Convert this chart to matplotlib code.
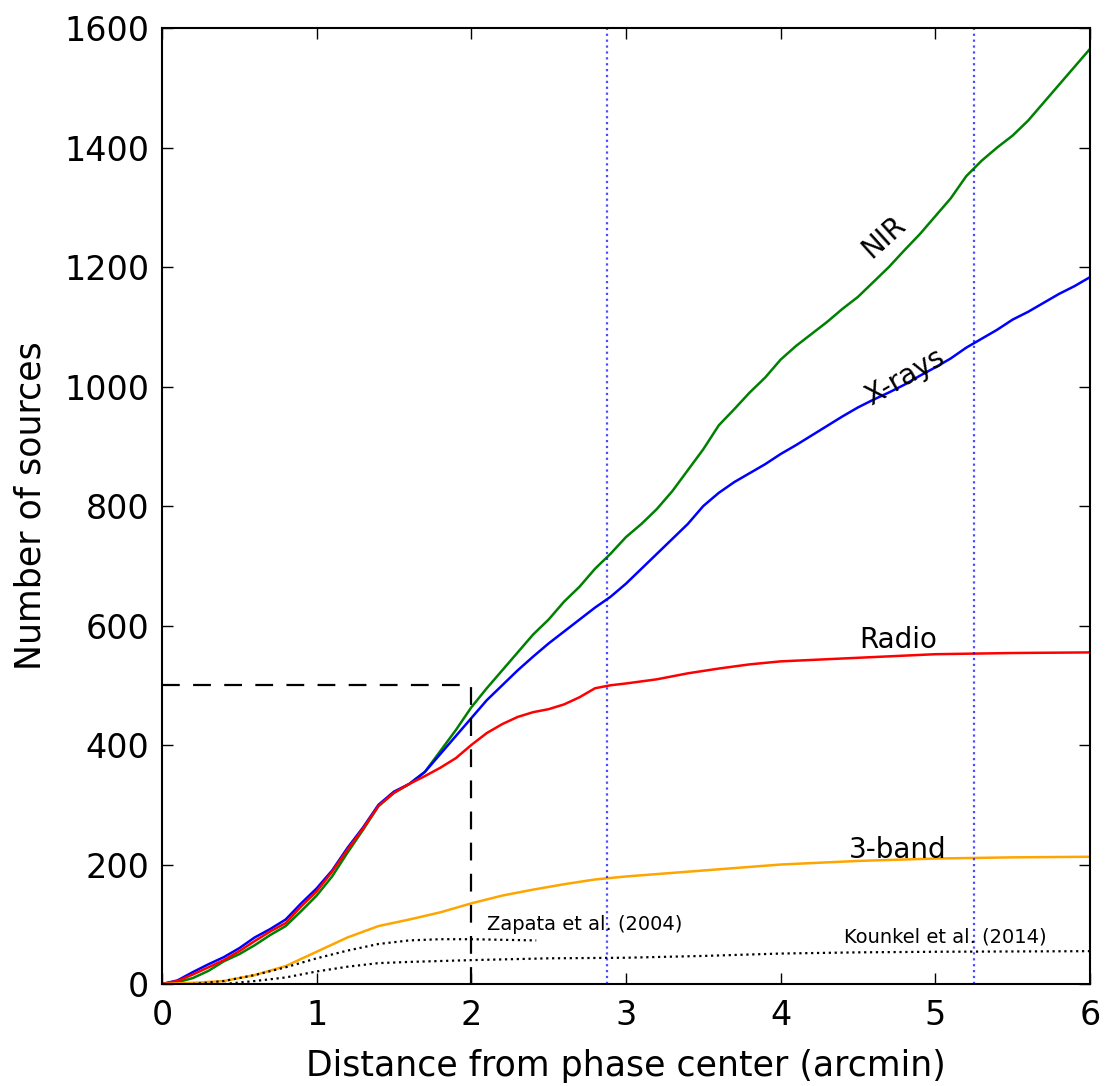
import matplotlib
matplotlib.use('Agg')
from matplotlib import pyplot as plt
import numpy as np

# cumulative source counts vs. distance from the phase center (arcmin)
r_step = np.round(np.arange(0, 6.01, 0.1), 1)

nir = [0, 3, 10, 22, 38, 50, 65, 82, 97, 122,
       148, 180, 220, 258, 298, 320, 335, 355, 390, 425,
       463, 495, 525, 555, 585, 610, 640, 665, 695, 720,
       748, 770, 795, 825, 860, 895, 935, 962, 990, 1015,
       1045, 1068, 1088, 1108, 1130, 1150, 1175, 1200, 1228, 1255,
       1285, 1315, 1352, 1378, 1400, 1420, 1445, 1475, 1505, 1535,
       1565]

xrays = [0, 6, 20, 33, 45, 60, 78, 92, 108, 135,
         160, 190, 228, 262, 300, 322, 335, 355, 385, 415,
         445, 475, 500, 525, 548, 570, 590, 610, 630, 648,
         670, 695, 720, 745, 770, 800, 822, 840, 855, 870,
         887, 902, 918, 934, 950, 965, 978, 990, 1003, 1018,
         1032, 1047, 1065, 1080, 1095, 1112, 1125, 1140, 1155, 1168,
         1183]

radio_r = [0, 0.1, 0.2, 0.3, 0.4, 0.5, 0.6, 0.7, 0.8, 0.9,
           1.0, 1.1, 1.2, 1.3, 1.4, 1.5, 1.6, 1.7, 1.8, 1.9,
           2.0, 2.1, 2.2, 2.3, 2.4, 2.5, 2.6, 2.7, 2.8, 2.9,
           3.0, 3.2, 3.4, 3.6, 3.8, 4.0, 4.5, 5.0, 5.5, 6.0]
radio = [0, 5, 16, 28, 40, 55, 72, 88, 102, 130,
         155, 188, 225, 260, 298, 320, 335, 348, 362, 378,
         400, 420, 435, 447, 455, 460, 468, 480, 495, 500,
         503, 510, 520, 528, 535, 540, 546, 552, 554, 555]

band3_r = [0, 0.2, 0.4, 0.6, 0.8, 1.0, 1.2, 1.4, 1.6, 1.8,
           2.0, 2.2, 2.4, 2.6, 2.8, 3.0, 3.5, 4.0, 4.5, 5.0, 5.5, 6.0]
band3 = [0, 2, 5, 15, 30, 54, 78, 97, 108, 120,
         135, 148, 158, 167, 175, 180, 190, 200, 206, 210, 212, 213]

zapata_r = [0.2, 0.4, 0.6, 0.8, 1.0, 1.2, 1.4, 1.6, 1.8, 2.0, 2.2, 2.42]
zapata = [0, 5, 15, 28, 43, 56, 67, 73, 75, 75, 74, 73]

kounkel_r = [0.4, 0.6, 0.8, 1.0, 1.2, 1.4, 1.6, 2.0, 2.5, 3.0,
             3.5, 4.0, 4.5, 5.0, 6.0]
kounkel = [0, 5, 11, 21, 29, 35, 37, 40, 43, 44,
           47, 51, 53, 54, 55]

# field radii marked with vertical lines
field_radii = [2.88, 5.25]

plt.rcParams['font.family'] = 'DejaVu Sans'
plt.rcParams['xtick.direction'] = 'in'
plt.rcParams['ytick.direction'] = 'in'

fig = plt.figure(figsize=(11.07, 10.86), dpi=100)
ax = fig.add_axes([0.1463, 0.0939, 0.8383, 0.8803])

ax.plot(r_step, nir, color='green', lw=1.8)
ax.plot(r_step, xrays, color='blue', lw=1.8)
ax.plot(radio_r, radio, color='red', lw=1.8)
ax.plot(band3_r, band3, color='orange', lw=1.8)
ax.plot(zapata_r, zapata, 'k:', lw=1.6)
ax.plot(kounkel_r, kounkel, 'k:', lw=1.6)

for fr in field_radii:
    ax.axvline(fr, color='blue', ls=':', lw=1.6, alpha=0.7)

# 500 sources within 2 arcmin
ax.plot([0, 2, 2], [500, 500, 0], 'k--', lw=1.6, dashes=(8, 6))

ax.text(4.67, 1250, 'NIR', fontsize=20, rotation=42, ha='center', va='center')
ax.text(4.80, 1015, 'X-rays', fontsize=20, rotation=30, ha='center', va='center')
ax.text(4.76, 576, 'Radio', fontsize=20, ha='center', va='center')
ax.text(4.76, 225, '3-band', fontsize=20, ha='center', va='center')
ax.text(2.1, 100, 'Zapata et al. (2004)', fontsize=14, ha='left', va='center')
ax.text(4.41, 79, 'Kounkel et al. (2014)', fontsize=14, ha='left', va='center')

ax.set_xlim(0, 6)
ax.set_ylim(0, 1600)
ax.set_xticks(range(0, 7))
ax.set_yticks(range(0, 1601, 200))
ax.tick_params(axis='x', pad=11)
ax.tick_params(labelsize=24, length=8, width=1, top=True, right=True)
ax.tick_params(axis='y', pad=9)
for sp in ax.spines.values():
    sp.set_linewidth(1.5)

ax.set_xlabel('Distance from phase center (arcmin)', fontsize=25, labelpad=12)
ax.set_ylabel('Number of sources', fontsize=25, labelpad=12)

fig.savefig('out.png', dpi=100)
